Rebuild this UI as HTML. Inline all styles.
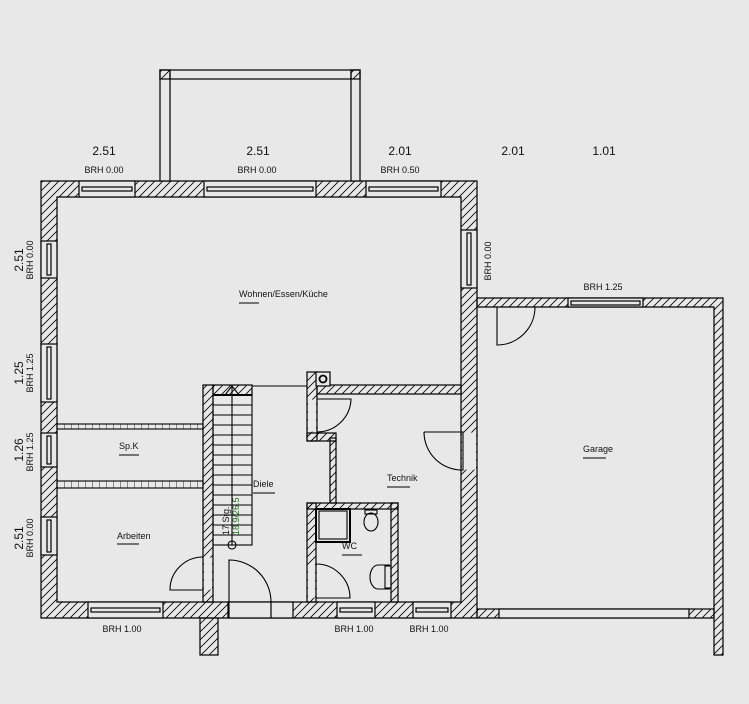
<!DOCTYPE html>
<html><head><meta charset="utf-8"><style>
html,body{margin:0;padding:0;background:#e8e8e8;}
svg{display:block;font-family:"Liberation Sans",sans-serif;}
text{fill:#111;}
</style></head><body>
<svg width="749" height="704" viewBox="0 0 749 704" xmlns="http://www.w3.org/2000/svg">
<defs>
<pattern id="h" patternUnits="userSpaceOnUse" width="8" height="8">
<path d="M-1 9 L9 -1 M-1 1 L1 -1 M7 9 L9 7" stroke="#000" stroke-width="0.8"/>
</pattern>
<pattern id="b" patternUnits="userSpaceOnUse" width="7" height="10" x="57">
<path d="M0 0 V10" stroke="#000" stroke-width="0.8"/>
</pattern>
</defs>
<rect width="749" height="704" fill="#e8e8e8"/>
<g stroke="#000" stroke-width="1.2" fill="url(#h)">
<!-- main outer wall -->
<path fill-rule="evenodd" d="M41 181 H477 V618 H41 Z M57 197 V602 H461 V197 Z"/>
<!-- garage -->
<path d="M477 298 H723 V655 H714 V307 H477 Z"/>
<rect x="477" y="609" width="237" height="9"/>
<!-- entrance protrusion -->
<rect x="200" y="618" width="18" height="37"/>
<!-- stair wall -->
<rect x="203" y="385" width="10" height="217"/>
<rect x="213" y="385" width="39" height="10"/>
<!-- technik walls -->
<rect x="307" y="372" width="10" height="69"/>
<rect x="317" y="385" width="144" height="9"/>
<rect x="307" y="433" width="29" height="8"/>
<rect x="330" y="438" width="6" height="65"/>
<rect x="307" y="503" width="91" height="6"/>
<rect x="307" y="503" width="9" height="99"/>
<rect x="391" y="503" width="7" height="99"/>
</g>
<g stroke="#000" stroke-width="1.2" fill="#e8e8e8">
<!-- chimney -->
<rect x="316" y="372" width="14" height="14"/>
<circle cx="323" cy="379" r="3.5" stroke-width="1.8"/>
<!-- top windows -->
<rect x="79" y="181" width="56" height="16"/><rect x="82" y="187" width="50" height="4"/>
<rect x="204" y="181" width="112" height="16"/><rect x="207" y="187" width="106" height="4"/>
<rect x="366" y="181" width="75" height="16"/><rect x="369" y="187" width="69" height="4"/>
<!-- left windows -->
<rect x="41" y="241" width="16" height="37"/><rect x="47" y="244" width="4" height="31"/>
<rect x="41" y="344" width="16" height="58"/><rect x="47" y="347" width="4" height="52"/>
<rect x="41" y="433" width="16" height="34"/><rect x="47" y="436" width="4" height="28"/>
<rect x="41" y="517" width="16" height="38"/><rect x="47" y="520" width="4" height="32"/>
<!-- right main window -->
<rect x="461" y="230" width="16" height="58"/><rect x="467" y="233" width="4" height="52"/>
<!-- bottom windows -->
<rect x="88" y="602" width="75" height="16"/><rect x="91" y="608" width="69" height="4"/>
<rect x="337" y="602" width="38" height="16"/><rect x="340" y="608" width="32" height="4"/>
<rect x="413" y="602" width="38" height="16"/><rect x="416" y="608" width="32" height="4"/>
<!-- garage windows -->
<rect x="568" y="298" width="75" height="9"/><rect x="571" y="301" width="69" height="4"/>
<rect x="499" y="609" width="190" height="9"/>
<!-- entrance opening -->
<rect x="228" y="602" width="65" height="16"/>
<line x1="271" y1="602" x2="271" y2="618"/>
<!-- balcony -->
<rect x="160" y="70" width="200" height="9"/>
<rect x="160" y="70" width="10" height="111"/>
<rect x="351" y="70" width="9" height="111"/>
</g>
<g stroke="none" fill="#e8e8e8">
<rect x="308" y="399.6" width="8" height="32"/>
<rect x="462" y="432.6" width="14" height="37"/>
<rect x="308" y="564.6" width="7" height="33"/>
<rect x="204" y="557.6" width="8" height="32"/>
<rect x="478" y="308" width="20" height="37"/>
</g>
<g stroke="#000" stroke-width="1.2" fill="url(#h)">
<rect x="160" y="70" width="10" height="9"/><rect x="351" y="70" width="9" height="9"/>
</g>
<g stroke="#000" stroke-width="1.1" fill="none">
<!-- thin line stair top -->
<line x1="252" y1="386" x2="307" y2="386"/>
<!-- stairs -->
<rect x="213" y="395" width="39" height="150"/>
<line x1="213" y1="395" x2="252" y2="395" stroke-width="2"/>
<path d="M213 405H252M213 415H252M213 425H252M213 435H252M213 445H252M213 455H252M213 465H252M213 475H252M213 485H252M213 495H252M213 505H252M213 515H252M213 525H252M213 535H252"/>
<line x1="232" y1="386" x2="232" y2="545"/>
<path d="M225 395 L232 386 L239 395"/>
<circle cx="232" cy="545" r="4"/>
<!-- Sp.K thin walls -->
<rect x="57" y="424" width="146" height="5" fill="url(#b)"/>
<rect x="57" y="481" width="146" height="7" fill="url(#b)"/>
<!-- doors -->
<path d="M317 399 H351 A34 34 0 0 1 317 432"/>
<path d="M424 432 H463 V470 A38 38 0 0 1 424 432"/>
<path d="M316 598 H350 A34 34 0 0 0 316 564"/>
<path d="M203 590 H170 A33 33 0 0 1 203 557"/>
<path d="M229 618 V560 A42 42 0 0 1 271 602"/>
<path d="M497 307 V345 A38 38 0 0 0 535 307"/>
<!-- WC fixtures -->
<rect x="316" y="509" width="34" height="33" stroke-width="2"/>
<rect x="319" y="511" width="28" height="28"/>
<ellipse cx="371" cy="522" rx="7" ry="9"/>
<rect x="365" y="510" width="12" height="4"/>
<path d="M390 565 H378 A8 12 0 0 0 378 589 H390"/>
<rect x="385" y="566" width="6" height="22"/>
<!-- label underlines -->
<path d="M239 303H259M119 455H139M117 544H139M253 493H275M387 487H410M342 555H362M583 458H606"/>
</g>
<g font-size="12" text-anchor="middle">
<text x="104" y="155">2.51</text><text x="258" y="155">2.51</text><text x="400" y="155">2.01</text>
<text x="513" y="155">2.01</text><text x="604" y="155">1.01</text>
</g>
<g font-size="9" text-anchor="middle">
<text x="104" y="173">BRH 0.00</text><text x="257" y="173">BRH 0.00</text><text x="400" y="173">BRH 0.50</text>
<text x="603" y="290">BRH 1.25</text>
<text x="122" y="632">BRH 1.00</text><text x="354" y="632">BRH 1.00</text><text x="429" y="632">BRH 1.00</text>
<text transform="translate(491,261) rotate(-90)">BRH 0.00</text>
<text transform="translate(33,260) rotate(-90)">BRH 0.00</text>
<text transform="translate(33,373) rotate(-90)">BRH 1.25</text>
<text transform="translate(33,452) rotate(-90)">BRH 1.25</text>
<text transform="translate(33,538) rotate(-90)">BRH 0.00</text>
</g>
<g font-size="12" text-anchor="middle">
<text transform="translate(23,260) rotate(-90)">2.51</text>
<text transform="translate(23,373) rotate(-90)">1.25</text>
<text transform="translate(23,450) rotate(-90)">1.26</text>
<text transform="translate(23,538) rotate(-90)">2.51</text>
</g>
<g font-size="9">
<text x="239" y="297">Wohnen/Essen/Küche</text>
<text x="119" y="449">Sp.K</text>
<text x="253" y="487">Diele</text>
<text x="387" y="481">Technik</text>
<text x="117" y="539">Arbeiten</text>
<text x="342" y="549">WC</text>
<text x="583" y="452">Garage</text>
<text transform="translate(229,535) rotate(-90)">17 Stg.</text>
<text transform="translate(239,535) rotate(-90)" style="fill:#2a6a2a">18.9/26.5</text>
</g>
</svg>
</body></html>
